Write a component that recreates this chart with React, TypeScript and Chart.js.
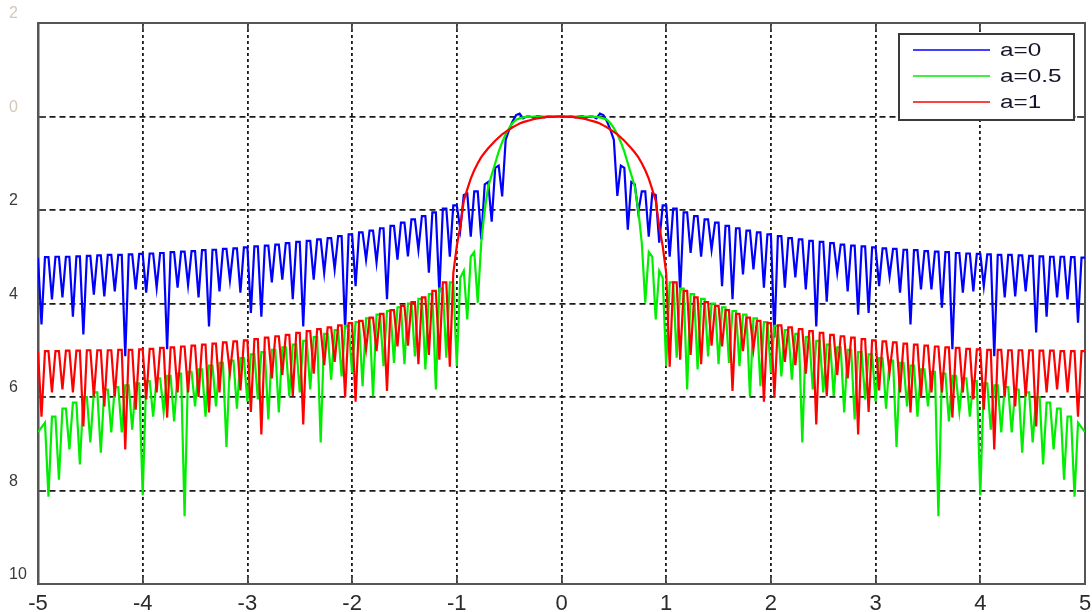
import React, { useEffect, useRef } from "react";
import { Chart, registerables } from "chart.js";

Chart.register(...registerables);

// Sampling grid of the curves: x = X_MIN + i / SAMPLES_PER_UNIT, i = 0..300
const X_MIN = -5;
const X_MAX = 5;
const SAMPLES_PER_UNIT = 30;

const X_TICKS = [-5, -4, -3, -2, -1, 0, 1, 2, 3, 4, 5];
const Y_TICKS = [-10, -8, -6, -4, -2, 0, 2];
const Y_TICK_LABELS = ["10", "8", "6", "4", "2", "0", "2"];

const SERIES_LABELS = ["a=0", "a=0.5", "a=1"];
const SERIES_COLORS = ["#0000ff", "#00ee00", "#ff0000"];

// a = 0
const BLUE = [
  -3.02,
  -4.45, -3.01, -3.01, -3.91, -3.0, -3.0, -3.87, -3.0, -3.0, -4.28, -2.99, -2.99, -4.66, -2.98, -2.98,
  -3.81, -2.97, -2.97, -3.85, -2.96, -2.96, -3.74, -2.96, -2.96, -5.13, -2.95, -2.95, -3.7, -2.94, -2.94,
  -3.77, -2.93, -2.93, -3.66, -2.92, -2.92, -4.98, -2.9, -2.9, -3.66, -2.89, -2.89, -3.6, -2.88, -2.88,
  -3.87, -2.86, -2.86, -4.49, -2.85, -2.85, -3.74, -2.83, -2.83, -3.5, -2.82, -2.82, -3.77, -2.8, -2.8,
  -4.2, -2.78, -2.78, -4.28, -2.76, -2.76, -3.55, -2.74, -2.74, -3.49, -2.71, -2.71, -3.91, -2.68, -2.68,
  -4.49, -2.66, -2.66, -3.49, -2.63, -2.63, -3.34, -2.6, -2.6, -3.27, -2.56, -2.56, -4.56, -2.52, -2.52,
  -3.63, -2.48, -2.48, -3.06, -2.44, -2.44, -3.12, -2.39, -2.39, -3.91, -2.34, -2.34, -3.06, -2.27, -2.27,
  -2.99, -2.2, -2.2, -2.85, -2.13, -2.13, -3.34, -2.05, -2.05, -3.77, -1.97, -1.97, -3.0, -1.9, -1.9,
  -2.42, -1.68, -1.65, -2.57, -1.6, -1.6, -2.63, -1.45, -1.4, -2.25, -1.1, -1.05, -1.71, -0.5, -0.28,
  -0.1, 0.03, 0.06, -0.04, 0, 0, -0.03, 0.01, 0, -0.02, 0, 0, -0.01, 0, 0,
  -0.01, 0, 0, -0.02, 0, 0.01, -0.03, 0, 0, -0.04, 0.06, 0.03, -0.1, -0.28, -0.5,
  -1.7, -1.05, -1.1, -2.42, -1.4, -1.45, -2.05, -1.6, -1.6, -2.57, -1.65, -1.68, -2.7, -1.9, -1.9,
  -3.0, -1.97, -1.97, -3.77, -2.05, -2.05, -2.92, -2.13, -2.13, -3.0, -2.2, -2.2, -2.85, -2.27, -2.27,
  -3.63, -2.34, -2.34, -3.91, -2.39, -2.39, -3.38, -2.44, -2.44, -3.27, -2.48, -2.48, -3.66, -2.52, -2.52,
  -4.73, -2.56, -2.56, -3.66, -2.6, -2.6, -3.44, -2.63, -2.63, -3.7, -2.66, -2.66, -4.49, -2.68, -2.68,
  -3.96, -2.71, -2.71, -3.34, -2.74, -2.74, -3.74, -2.76, -2.76, -4.24, -2.78, -2.78, -4.2, -2.8, -2.8,
  -3.63, -2.82, -2.82, -3.42, -2.83, -2.83, -3.77, -2.85, -2.85, -4.45, -2.86, -2.86, -3.7, -2.88, -2.88,
  -3.7, -2.89, -2.89, -4.09, -2.9, -2.9, -4.98, -2.92, -2.92, -3.77, -2.93, -2.93, -3.74, -2.94, -2.94,
  -3.63, -2.95, -2.95, -5.13, -2.96, -2.96, -3.87, -2.96, -2.96, -3.85, -2.97, -2.97, -3.74, -2.98, -2.98,
  -4.62, -2.99, -2.99, -4.28, -3.0, -3.0, -3.87, -3.0, -3.0, -3.91, -3.01, -3.01, -4.41, -3.02, -3.02,
];

// a = 0.5
const GREEN = [
  -6.75, -6.65, -6.55,
  -8.13, -6.42, -6.42, -7.77, -6.25, -6.25, -7.12, -6.12, -6.12, -7.44, -6.0, -6.0, -6.97, -5.9, -5.9,
  -7.19, -5.84, -5.84, -6.76, -5.79, -5.79, -6.76, -5.75, -5.75, -6.7, -5.71, -5.71, -8.1, -5.66, -5.66,
  -6.42, -5.6, -5.6, -6.31, -5.55, -5.55, -6.52, -5.5, -5.5, -8.55, -5.46, -5.46, -6.2, -5.41, -5.41,
  -6.42, -5.33, -5.33, -6.2, -5.27, -5.27, -7.07, -5.22, -5.22, -6.25, -5.17, -5.17, -6.1, -5.09, -5.09,
  -6.05, -5.04, -5.04, -6.48, -4.99, -4.99, -6.33, -4.94, -4.94, -5.98, -4.88, -4.88, -5.9, -4.8, -4.8,
  -5.84, -4.72, -4.72, -6.97, -4.65, -4.65, -5.63, -4.57, -4.57, -5.56, -4.48, -4.48, -5.48, -4.4, -4.4,
  -5.77, -4.32, -4.32, -5.99, -4.24, -4.24, -5.34, -4.16, -4.16, -5.27, -4.08, -4.08, -5.3, -4.0, -4.0,
  -5.13, -3.9, -3.9, -5.41, -3.8, -3.8, -5.84, -3.68, -3.68, -5.16, -3.55, -3.55,
  -5.34, -3.45, -3.3, -4.34, -3.0, -2.9, -3.98, -2.7, -2.0,
  -1.5, -1.25, -1.0, -0.75, -0.55, -0.38, -0.25, -0.14, -0.07, -0.04, -0.02,
  -0.01, -0.01, 0, 0, 0, 0, 0, 0, 0, 0, 0,
  0, 0, 0, 0, 0, 0, 0, 0, -0.01, -0.01, -0.02, -0.04, -0.07, -0.14, -0.25,
  -0.38, -0.55, -0.75, -1.0, -1.25, -1.5, -2.0, -2.7, -3.98, -2.9, -3.0, -4.34, -3.3, -3.45, -5.34,
  -3.55, -3.55, -5.16, -3.68, -3.68, -5.84, -3.8, -3.8, -5.41, -3.9, -3.9, -5.13, -4.0, -4.0, -5.3,
  -4.08, -4.08, -5.27, -4.16, -4.16, -5.34, -4.24, -4.24, -5.99, -4.32, -4.32, -5.77, -4.4, -4.4, -5.48,
  -4.48, -4.48, -5.56, -4.57, -4.57, -5.63, -4.65, -4.65, -6.97, -4.72, -4.72, -5.84, -4.8, -4.8, -5.9,
  -4.88, -4.88, -5.98, -4.94, -4.94, -6.33, -4.99, -4.99, -6.48, -5.04, -5.04, -6.05, -5.09, -5.09, -6.1,
  -5.17, -5.17, -6.25, -5.22, -5.22, -7.07, -5.27, -5.27, -6.2, -5.33, -5.33, -6.42, -5.41, -5.41, -6.2,
  -5.46, -5.46, -8.55, -5.5, -5.5, -6.52, -5.55, -5.55, -6.31, -5.6, -5.6, -6.42, -5.66, -5.66, -8.1,
  -5.71, -5.71, -6.7, -5.75, -5.75, -6.76, -5.79, -5.79, -6.76, -5.84, -5.84, -7.19, -5.9, -5.9, -6.97,
  -6.0, -6.0, -7.44, -6.12, -6.12, -7.12, -6.25, -6.25, -7.77, -6.42, -6.42, -8.13,
  -6.55, -6.65, -6.75,
];

// a = 1
const RED = [
  -5.02,
  -6.42, -5.02, -5.02, -5.9, -5.02, -5.02, -5.84, -5.01, -5.01, -5.9, -5.01, -5.01, -6.63, -5.0, -5.0,
  -5.99, -5.0, -5.0, -6.2, -5.0, -5.0, -5.99, -4.99, -4.99, -7.12, -4.99, -4.99, -6.27, -4.98, -4.98,
  -6.05, -4.97, -4.97, -5.9, -4.95, -4.95, -6.44, -4.94, -4.94, -5.9, -4.92, -4.92, -5.9, -4.9, -4.9,
  -6.0, -4.88, -4.88, -6.33, -4.86, -4.86, -5.9, -4.83, -4.83, -5.48, -4.81, -4.81, -5.86, -4.79, -4.79,
  -6.32, -4.76, -4.76, -6.8, -4.73, -4.73, -5.6, -4.7, -4.7, -5.53, -4.67, -4.67, -5.98, -4.63, -4.63,
  -6.59, -4.59, -4.59, -5.5, -4.55, -4.55, -5.32, -4.51, -4.51, -5.25, -4.47, -4.47, -6.0, -4.42, -4.42,
  -6.1, -4.37, -4.37, -4.98, -4.3, -4.3, -5.02, -4.22, -4.22, -5.87, -4.14, -4.14, -4.92, -4.05, -4.05,
  -4.9, -3.97, -3.97, -5.3, -3.87, -3.87, -5.1, -3.73, -3.73, -5.2, -3.55, -3.55,
  -5.35, -3.35, -2.77,
  -2.35, -1.8, -1.56, -1.33, -1.15, -1.0, -0.87, -0.77, -0.68, -0.6,
  -0.52, -0.45, -0.38, -0.33, -0.28, -0.23, -0.19, -0.15, -0.12, -0.1,
  -0.08, -0.06, -0.04, -0.03, -0.02, -0.01, -0.01, 0, 0, 0,
  0, -0.01, -0.01, -0.02, -0.03, -0.04, -0.06, -0.08, -0.1, -0.12,
  -0.15, -0.19, -0.23, -0.28, -0.33, -0.38, -0.45, -0.52, -0.6, -0.68,
  -0.77, -0.87, -1.0, -1.15, -1.33, -1.56, -1.8, -2.35, -2.77, -3.35,
  -5.35, -3.55, -3.55, -5.2, -3.73, -3.73, -5.1, -3.87, -3.87, -5.3, -3.97, -3.97, -4.9, -4.05, -4.05,
  -4.92, -4.14, -4.14, -5.87, -4.22, -4.22, -5.02, -4.3, -4.3, -4.98, -4.37, -4.37, -6.1, -4.42, -4.42,
  -6.0, -4.47, -4.47, -5.25, -4.51, -4.51, -5.32, -4.55, -4.55, -5.5, -4.59, -4.59, -6.59, -4.63, -4.63,
  -5.98, -4.67, -4.67, -5.53, -4.7, -4.7, -5.6, -4.73, -4.73, -6.8, -4.76, -4.76, -6.32, -4.79, -4.79,
  -5.86, -4.81, -4.81, -5.48, -4.83, -4.83, -5.9, -4.86, -4.86, -6.33, -4.88, -4.88, -6.0, -4.9, -4.9,
  -5.9, -4.92, -4.92, -5.9, -4.94, -4.94, -6.44, -4.95, -4.95, -5.9, -4.97, -4.97, -6.05, -4.98, -4.98,
  -6.27, -4.99, -4.99, -7.12, -4.99, -4.99, -5.99, -5.0, -5.0, -6.2, -5.0, -5.0, -5.99, -5.0, -5.0,
  -6.63, -5.01, -5.01, -5.9, -5.01, -5.01, -5.84, -5.02, -5.02, -5.9, -5.02, -5.02, -6.42, -5.02, -5.02,
];

const SERIES_VALUES = [BLUE, GREEN, RED];

const FONT = "'Liberation Sans', Arial, sans-serif";

const toPoints = (vals: number[]) =>
  vals.map((y, i) => ({ x: X_MIN + i / SAMPLES_PER_UNIT, y }));

const insideLegend = {
  id: "insideLegend",
  afterDatasetsDraw(chart: any) {
    const { ctx, chartArea } = chart;
    const w = 175;
    const h = 86;
    const left = chartArea.right - 186;
    const top = chartArea.top + 11;
    ctx.save();
    ctx.fillStyle = "#ffffff";
    ctx.fillRect(left, top, w, h);
    ctx.strokeStyle = "#3a3a3a";
    ctx.lineWidth = 2;
    ctx.strokeRect(left, top, w, h);
    SERIES_LABELS.forEach((label, j) => {
      const y = top + 16 + j * 26;
      ctx.strokeStyle = SERIES_COLORS[j];
      ctx.lineWidth = 1.6;
      ctx.beginPath();
      ctx.moveTo(left + 14, y);
      ctx.lineTo(left + 91, y);
      ctx.stroke();
      ctx.save();
      ctx.translate(left + 101, y + 1);
      ctx.scale(1.35, 1);
      ctx.font = `18px ${FONT}`;
      ctx.fillStyle = "#15152a";
      ctx.textBaseline = "middle";
      ctx.textAlign = "left";
      ctx.fillText(label, 0, 0);
      ctx.restore();
    });
    ctx.restore();
  },
};

const noPad = (s: any) => {
  s.paddingLeft = 0;
  s.paddingRight = 0;
  s.paddingTop = 0;
  s.paddingBottom = 0;
};

export default function App() {
  const canvasRef = useRef<HTMLCanvasElement | null>(null);

  useEffect(() => {
    if (!canvasRef.current) return;
    const gridCommon = {
      color: "#1a1a1a",
      lineWidth: 1.8,
      tickLength: -8,
      tickColor: "#444444",
      tickWidth: 1.8,
    };
    const chart = new Chart(canvasRef.current, {
      type: "line",
      data: {
        datasets: SERIES_VALUES.map((vals, j) => ({
          label: SERIES_LABELS[j],
          data: toPoints(vals),
          borderColor: SERIES_COLORS[j],
          backgroundColor: SERIES_COLORS[j],
          borderWidth: 2.2,
          pointRadius: 0,
          tension: 0,
          fill: false,
          order: 3 - j,
        })),
      },
      options: {
        responsive: false,
        animation: false,
        devicePixelRatio: 1,
        layout: { padding: { left: 9, top: 23, right: 7, bottom: 0 } },
        plugins: {
          legend: { display: false },
          tooltip: { enabled: false },
        },
        scales: {
          x: {
            type: "linear",
            position: "bottom",
            min: X_MIN,
            max: X_MAX,
            afterBuildTicks: (s: any) => {
              s.ticks = X_TICKS.map((v) => ({ value: v }));
            },
            afterFit: (s: any) => {
              s.height = 28;
              noPad(s);
            },
            ticks: {
              font: { family: FONT, size: 22 },
              color: "#2a2a2a",
              padding: 15,
              maxRotation: 0,
              autoSkip: false,
            },
            grid: { ...gridCommon },
            border: { display: true, color: "#555555", width: 2, dash: [3, 3] },
          },
          x2: {
            type: "linear",
            position: "top",
            min: X_MIN,
            max: X_MAX,
            afterBuildTicks: (s: any) => {
              s.ticks = X_TICKS.map((v) => ({ value: v }));
            },
            afterFit: (s: any) => {
              s.height = 0;
              noPad(s);
            },
            ticks: { display: false },
            grid: { ...gridCommon, drawOnChartArea: false },
            border: { display: true, color: "#555555", width: 2 },
          },
          y: {
            type: "linear",
            position: "left",
            min: -10,
            max: 2,
            afterBuildTicks: (s: any) => {
              s.ticks = Y_TICKS.map((v) => ({ value: v }));
            },
            afterFit: (s: any) => {
              s.width = 29;
              noPad(s);
            },
            ticks: {
              callback: (v: any) => Y_TICK_LABELS[Y_TICKS.indexOf(Number(v))],
              crossAlign: "far",
              labelOffset: -9,
              font: { family: FONT, size: 16 },
              color: (c: any) =>
                c.tick && c.tick.value >= 0 ? "#d2c8b4" : "#3a3a3a",
              autoSkip: false,
            },
            grid: { ...gridCommon },
            border: { display: true, color: "#555555", width: 2.5, dash: [6, 4] },
          },
          y2: {
            type: "linear",
            position: "right",
            min: -10,
            max: 2,
            afterBuildTicks: (s: any) => {
              s.ticks = Y_TICKS.map((v) => ({ value: v }));
            },
            afterFit: (s: any) => {
              s.width = 0;
              noPad(s);
            },
            ticks: { display: false },
            grid: { ...gridCommon, drawOnChartArea: false },
            border: { display: true, color: "#555555", width: 2 },
          },
        },
      } as any,
      plugins: [insideLegend],
    });
    return () => chart.destroy();
  }, []);

  return (
    <div
      style={{
        position: "absolute",
        left: 0,
        top: 0,
        width: 1092,
        height: 612,
        background: "#ffffff",
      }}
    >
      <canvas
        ref={canvasRef}
        width={1092}
        height={612}
        style={{ display: "block", width: 1092, height: 612 }}
      />
    </div>
  );
}
